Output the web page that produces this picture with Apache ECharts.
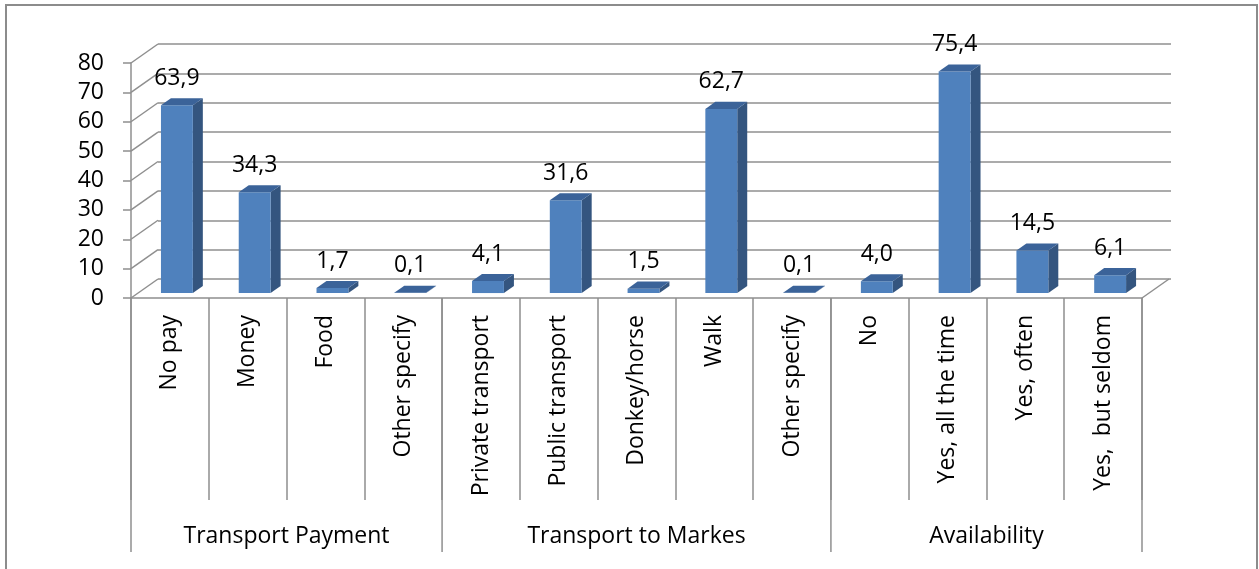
<!DOCTYPE html>
<html>
<head>
<meta charset="utf-8">
<script src="https://cdn.jsdelivr.net/npm/echarts@6/dist/echarts.min.js"></script>
<style>
  html, body { margin: 0; padding: 0; background: #fff; }
  #chart { width: 1259px; height: 569px; }
</style>
</head>
<body>
<div id="chart"></div>
<script>
// Survey answers, in percent
const categories = ['No pay', 'Money', 'Food', 'Other specify', 'Private transport', 'Public transport',
  'Donkey/horse', 'Walk', 'Other specify', 'No', 'Yes, all the time', 'Yes, often', 'Yes,  but seldom'];
const values = [63.9, 34.3, 1.7, 0.1, 4.1, 31.6, 1.5, 62.7, 0.1, 4.0, 75.4, 14.5, 6.1];
const groupNames = ['Transport Payment', 'Transport to Markes', 'Availability'];
const groupSizes = [4, 5, 4];
const yTicks = [0, 10, 20, 30, 40, 50, 60, 70, 80];

// 3D look: depth vector from the front plane to the back wall
const DX = 27, DY = -19;
const F1 = 0.26, F2 = 0.63;          // bar front / back depth fractions
const GRID_COLOR = '#8f8f8f';
const TEXT_COLOR = '#000';
const FONT = 'Open Sans';
const FS = 23;

const fmt = v => v.toFixed(1).replace('.', ',');

// group spans as [start, end, name]
const groups = [];
{
  let s = 0;
  groupSizes.forEach((n, k) => { groups.push([s, s + n, groupNames[k]]); s += n; });
}

const chart = echarts.init(document.getElementById('chart'), null, { renderer: 'canvas' });

const option = {
  animation: false,
  backgroundColor: '#fff',
  graphic: [{
    type: 'rect',
    shape: { x: 6, y: 5, width: 1251, height: 620 },
    style: { fill: 'none', stroke: '#8c8c8c', lineWidth: 2 },
    silent: true
  }],
  grid: [
    { left: 131, right: 117, top: 63, bottom: 271 },   // front plane
    { left: 158, right: 88, top: 44, bottom: 290 }     // back wall
  ],
  xAxis: [
    {
      type: 'category', gridIndex: 0, data: categories,
      axisLine: { show: true, lineStyle: { color: GRID_COLOR, width: 1.5 } },
      axisTick: { show: true, length: 202, lineStyle: { color: GRID_COLOR, width: 1.5 } },
      axisLabel: { rotate: 90, margin: 17, color: TEXT_COLOR, fontFamily: FONT, fontSize: FS, interval: 0 },
      splitLine: { show: false }
    },
    {
      type: 'category', gridIndex: 1, data: categories,
      show: false
    }
  ],
  yAxis: [
    {
      type: 'value', gridIndex: 0, min: 0, max: 80, interval: 10,
      axisLine: { show: true, lineStyle: { color: GRID_COLOR, width: 1.5 } },
      axisTick: { show: true, length: 8, lineStyle: { color: GRID_COLOR, width: 1.5 } },
      axisLabel: { margin: 27, color: TEXT_COLOR, fontFamily: FONT, fontSize: FS },
      splitLine: { show: false }
    },
    {
      type: 'value', gridIndex: 1, min: 0, max: 80, interval: 10,
      axisLine: { show: false }, axisTick: { show: false }, axisLabel: { show: false },
      splitLine: { show: true, lineStyle: { color: GRID_COLOR, width: 1.5 } }
    }
  ],
  series: [
    // side wall lines and right floor edge
    {
      type: 'custom', xAxisIndex: 0, yAxisIndex: 0, silent: true, clip: false, z: 1,
      data: yTicks.map(t => [0, t]),
      renderItem(params, api) {
        const p = api.coord([0, api.value(1)]);
        const band = api.size([1, 0])[0];
        const x = p[0] - band / 2;
        const children = [{
          type: 'line',
          shape: { x1: x, y1: p[1], x2: x + DX, y2: p[1] + DY },
          style: { stroke: GRID_COLOR, lineWidth: 1.5 }
        }];
        if (api.value(1) === 0) {
          const q = api.coord([categories.length - 1, 0]);
          const xr = q[0] + band / 2;
          children.push({
            type: 'line',
            shape: { x1: xr, y1: q[1], x2: xr + DX, y2: q[1] + DY },
            style: { stroke: GRID_COLOR, lineWidth: 1.5 }
          });
        }
        return { type: 'group', children };
      }
    },
    // 3D columns with value labels
    {
      type: 'custom', xAxisIndex: 0, yAxisIndex: 0, clip: false, z: 3,
      data: values.map((v, i) => [i, v]),
      renderItem(params, api) {
        const i = api.value(0), v = api.value(1);
        const base = api.coord([i, 0]);
        const top = api.coord([i, v]);
        const band = api.size([1, 0])[0];
        const fw = band * 0.41;
        const cx = base[0] + DX * F1;
        const x = cx - fw / 2;
        const yB = base[1] + DY * F1;
        const yT = top[1] + DY * F1;
        const ddx = DX * (F2 - F1), ddy = DY * (F2 - F1);
        return {
          type: 'group',
          children: [
            {
              type: 'polygon',
              shape: { points: [[x + fw, yT], [x + fw + ddx, yT + ddy], [x + fw + ddx, yB + ddy], [x + fw, yB]] },
              style: { fill: '#34557f' }
            },
            {
              type: 'rect',
              shape: { x: x, y: yT, width: fw, height: yB - yT },
              style: { fill: '#4f81bd' }
            },
            {
              type: 'polygon',
              shape: { points: [[x, yT], [x + ddx, yT + ddy], [x + fw + ddx, yT + ddy], [x + fw, yT]] },
              style: { fill: '#3b6399' }
            },
            {
              type: 'text',
              style: {
                x: cx, y: yT - 27, text: fmt(v), align: 'center', verticalAlign: 'middle',
                fill: TEXT_COLOR, font: FS + 'px "' + FONT + '"'
              }
            }
          ]
        };
      }
    },
    // group dividers and group names under the category labels
    {
      type: 'custom', xAxisIndex: 0, yAxisIndex: 0, silent: true, clip: false, z: 2,
      data: groups.map(g => [g[0], g[1]]),
      renderItem(params, api) {
        const g = groups[params.dataIndex];
        const band = api.size([1, 0])[0];
        const a = api.coord([g[0], 0]);
        const b = api.coord([g[1] - 1, 0]);
        const xl = a[0] - band / 2, xr = b[0] + band / 2;
        const y0 = a[1];
        const children = [
          { type: 'line', shape: { x1: xr, y1: y0, x2: xr, y2: y0 + 254 }, style: { stroke: GRID_COLOR, lineWidth: 1.5 } },
          {
            type: 'text',
            style: {
              x: (xl + xr) / 2, y: y0 + 238, text: g[2], align: 'center', verticalAlign: 'middle',
              fill: TEXT_COLOR, font: FS + 'px "' + FONT + '"'
            }
          }
        ];
        if (params.dataIndex === 0) {
          children.push({ type: 'line', shape: { x1: xl, y1: y0, x2: xl, y2: y0 + 254 }, style: { stroke: GRID_COLOR, lineWidth: 1.5 } });
        }
        return { type: 'group', children };
      }
    }
  ]
};

chart.setOption(option);
</script>
</body>
</html>
